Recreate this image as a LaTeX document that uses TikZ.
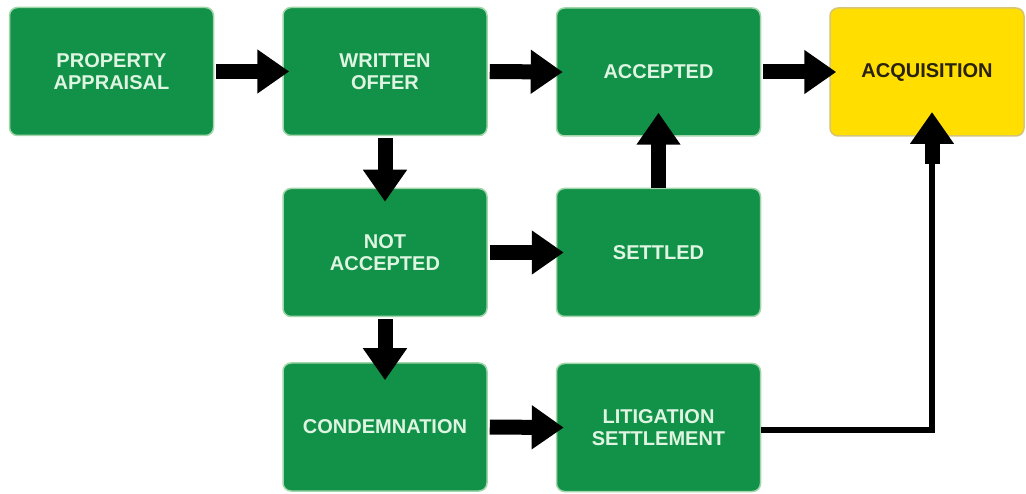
\documentclass[tikz,border=0pt]{standalone}
\usepackage{fontspec}
\setmainfont{Liberation Sans}
\usetikzlibrary{arrows.meta}
\definecolor{boxgreen}{RGB}{18,145,72}
\definecolor{boxedge}{RGB}{160,214,170}
\definecolor{boxtext}{RGB}{222,245,226}
\definecolor{acqyellow}{RGB}{255,222,0}
\definecolor{acqedge}{RGB}{214,196,120}
\definecolor{acqtext}{RGB}{40,34,14}
\tikzset{
  stepbox/.style={rectangle, rounded corners=8pt, fill=boxgreen, draw=boxedge, line width=1.5pt,
    minimum width=204pt, minimum height=128pt, align=center, text=boxtext,
    font=\fontsize{20}{21.5}\selectfont\bfseries, inner sep=0pt},
  goalbox/.style={stepbox, fill=acqyellow, draw=acqedge, text=acqtext, minimum width=194pt},
  bigarrow/.style={line width=15pt, -{Triangle[width=42pt,length=32pt]}},
  thinline/.style={line width=6pt}
}
\begin{document}
\begin{tikzpicture}[x=1pt,y=-1pt]
\useasboundingbox (0,0) rectangle (1026,494);
\node[stepbox] (pa) at (111.5,71.5) {PROPERTY\\APPRAISAL};
\node[stepbox] (wo) at (385,71.5) {WRITTEN\\OFFER};
\node[stepbox] (acc) at (658.5,72) {ACCEPTED};
\node[goalbox] (acq) at (927,72) {ACQUISITION};
\node[stepbox] (na) at (385,252.5) {NOT\\ACCEPTED};
\node[stepbox] (set) at (658.5,252.5) {SETTLED};
\node[stepbox] (cond) at (385,427) {CONDEMNATION};
\node[stepbox] (lit) at (658.5,427.5) {LITIGATION\\SETTLEMENT};
% arrows
\draw[bigarrow, shorten <=2pt, shorten >=-7pt] (pa.east) -- (wo.west);
\draw[bigarrow, shorten <=2pt, shorten >=-7pt] (wo.east) -- (acc.west);
\draw[bigarrow, shorten <=2pt, shorten >=-7pt] (acc.east) -- (acq.west);
\draw[bigarrow, shorten <=2pt, shorten >=-14pt] (wo.south) -- (na.north);
\draw[bigarrow, shorten <=2pt, shorten >=-18pt] (na.south) -- (cond.north);
\draw[bigarrow, shorten <=2pt, shorten >=-8pt] (na.east) -- (set.west);
\draw[bigarrow, shorten <=2pt, shorten >=-8pt] (cond.east) -- (lit.west);
\draw[bigarrow, shorten >=-24pt] (set.north) -- (acc.south);
% litigation to acquisition
\coordinate (corner) at (932,430);
\coordinate (rise) at (932,160);
\coordinate (acqin) at (932,137);
\draw[thinline] (lit.east |- corner) -- (corner) -- (rise);
\draw[bigarrow, shorten >=-25pt] ([yshift=-4pt]rise) -- (acqin);
\end{tikzpicture}
\end{document}
